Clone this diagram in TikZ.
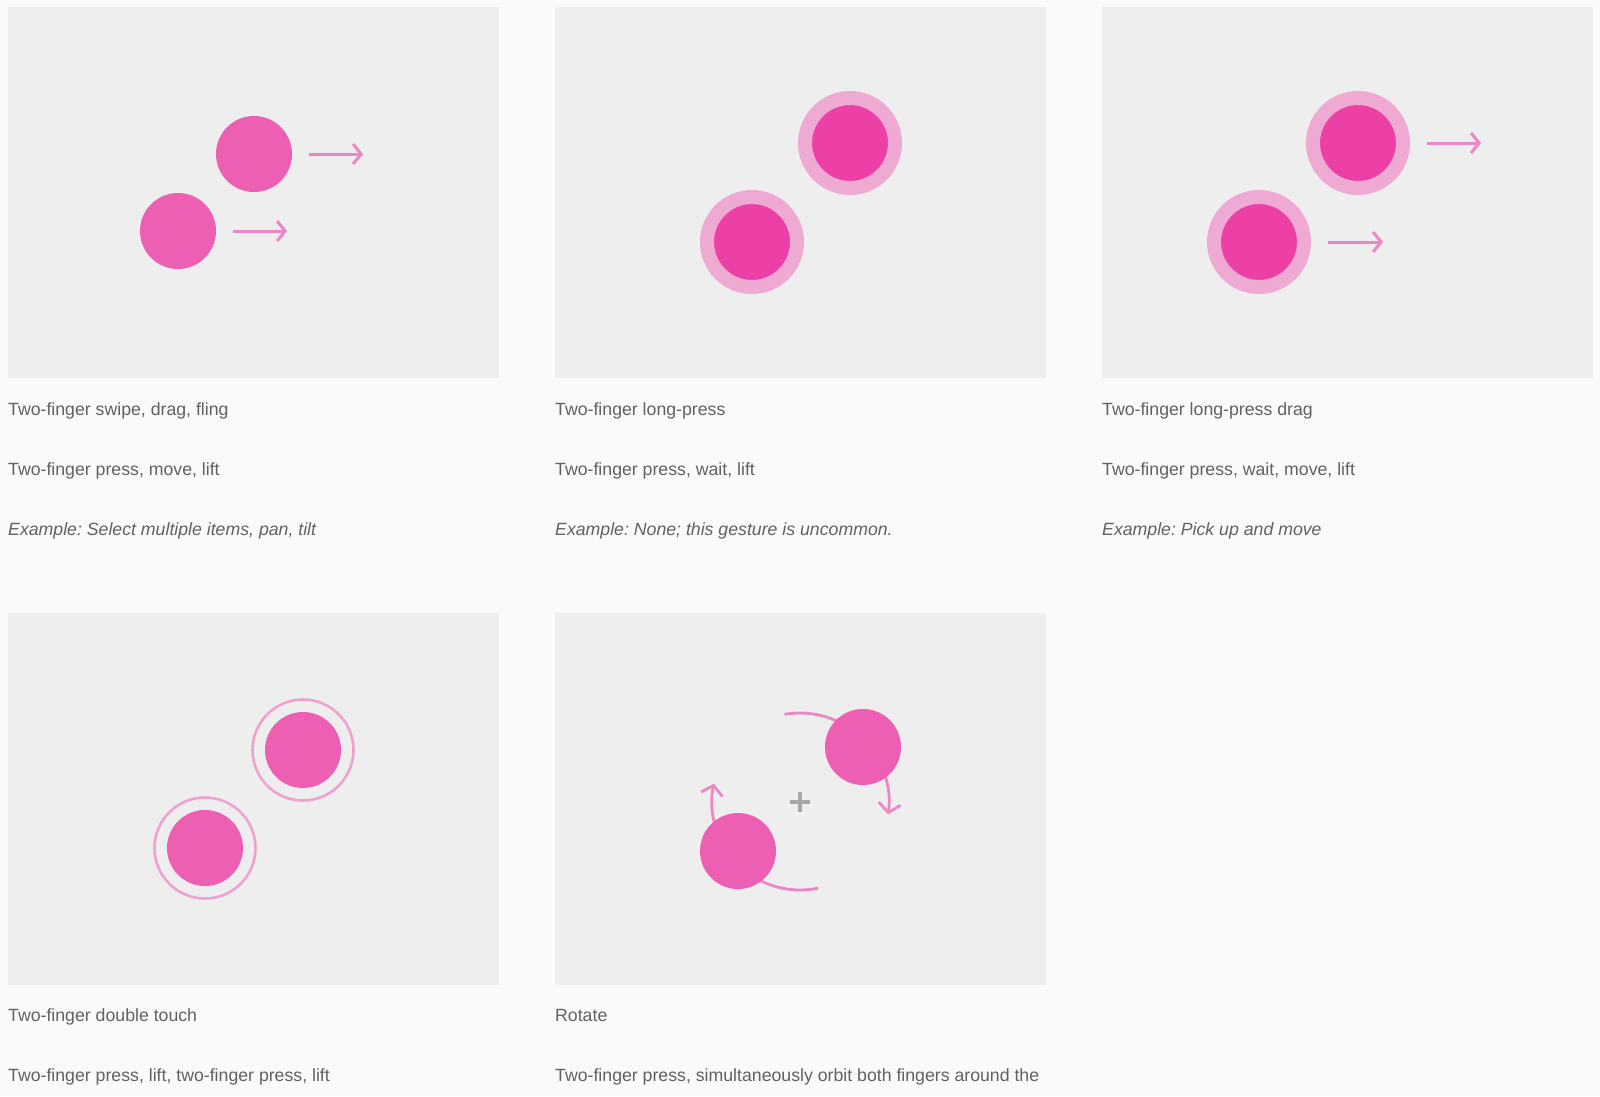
\documentclass[tikz,border=0pt]{standalone}
\usepackage{fontspec}
\setmainfont{Liberation Sans}
\usetikzlibrary{arrows.meta}
\definecolor{pagebg}{HTML}{FAFAFA}
\definecolor{panelbg}{HTML}{EEEEEE}
\definecolor{dotpink}{HTML}{ED5FB2}
\definecolor{deeppink}{HTML}{EC40A6}
\definecolor{halopink}{HTML}{EEAAD2}
\definecolor{ringpink}{HTML}{EEA2CE}
\definecolor{arrowpink}{HTML}{EE86C4}
\definecolor{txtgray}{HTML}{616161}
\definecolor{plusgray}{HTML}{A8A8A8}
\tikzset{
  panel/.style={fill=panelbg, draw=none},
  dot/.style={circle, fill=dotpink, draw=none, inner sep=0pt, minimum size=76pt},
  pressdot/.style={circle, fill=deeppink, draw=halopink, line width=14pt, inner sep=0pt, minimum size=90pt},
  ringdot/.style={circle, fill=dotpink, draw=none, inner sep=0pt, minimum size=76pt},
  ring/.style={circle, draw=ringpink, line width=2.6pt, inner sep=0pt, minimum size=101pt},
  movearrow/.style={draw=arrowpink, line width=3pt, -{Straight Barb[length=8pt,width=20pt,line width=3pt]}},
  orbitarrow/.style={draw=arrowpink, line width=2.8pt, -{Straight Barb[length=9pt,width=22pt,line width=2.8pt]}},
  title/.style={anchor=base west, inner sep=0pt, text=txtgray, font=\fontsize{17.7}{21}\selectfont},
  example/.style={title, font=\fontsize{17.7}{21}\selectfont\itshape},
}
\begin{document}
\frenchspacing
\begin{tikzpicture}[x=1pt, y=-1pt]
\useasboundingbox (0,0) rectangle (1600,1096);
\fill[pagebg] (0,0) rectangle (1600,1096);

% panels
\fill[panel] (8,7) rectangle (499,378);
\fill[panel] (555,7) rectangle (1046,378);
\fill[panel] (1102,7) rectangle (1593,378);
\fill[panel] (8,613) rectangle (499,985);
\fill[panel] (555,613) rectangle (1046,985);

% panel 1: swipe
\node[dot] (p1a) at (254,154) {};
\node[dot] (p1b) at (178,231) {};
\coordinate (p1as) at (309,154);
\coordinate (p1ae) at (363,154);
\coordinate (p1bs) at (233,231);
\coordinate (p1be) at (287,231);
\draw[movearrow] (p1as) -- (p1ae);
\draw[movearrow] (p1bs) -- (p1be);

% panel 2: long press
\node[pressdot] (p2a) at (850,143) {};
\node[pressdot] (p2b) at (752,242) {};

% panel 3: long press drag
\node[pressdot] (p3a) at (1358,143) {};
\node[pressdot] (p3b) at (1259,242) {};
\coordinate (p3as) at (1427,143);
\coordinate (p3ae) at (1481,143);
\coordinate (p3bs) at (1328,242);
\coordinate (p3be) at (1383,242);
\draw[movearrow] (p3as) -- (p3ae);
\draw[movearrow] (p3bs) -- (p3be);

% panel 4: double touch
\node[ring] (p4ra) at (303,750) {};
\node[ringdot] (p4a) at (303,750) {};
\node[ring] (p4rb) at (205,848) {};
\node[ringdot] (p4b) at (205,848) {};

% panel 5: rotate
\coordinate (ctr) at (800,802);
\draw[orbitarrow] (ctr) ++(-100:89) arc[start angle=-100, end angle=8, radius=89];
\draw[orbitarrow] (ctr) ++(78:88) arc[start angle=78, end angle=192, radius=88];
\node[dot] (p5a) at (863,747) {};
\node[dot] (p5b) at (738,851) {};
\draw[plusgray, line width=3.4pt] (790,802) -- (810,802) (800,792) -- (800,812);

% texts
\node[title] (t1a) at (8,415) {Two-finger swipe, drag, fling};
\node[title] (t1b) at (8,475) {Two-finger press, move, lift};
\node[example] (t1c) at (8,535) {Example: Select multiple items, pan, tilt};

\node[title] (t2a) at (555,415) {Two-finger long-press};
\node[title] (t2b) at (555,475) {Two-finger press, wait, lift};
\node[example] (t2c) at (555,535) {Example: None; this gesture is uncommon.};

\node[title] (t3a) at (1102,415) {Two-finger long-press drag};
\node[title] (t3b) at (1102,475) {Two-finger press, wait, move, lift};
\node[example] (t3c) at (1102,535) {Example: Pick up and move};

\node[title] (t4a) at (8,1021) {Two-finger double touch};
\node[title] (t4b) at (8,1081) {Two-finger press, lift, two-finger press, lift};

\node[title] (t5a) at (555,1021) {Rotate};
\node[title] (t5b) at (555,1081) {Two-finger press, simultaneously orbit both fingers around the};
\end{tikzpicture}
\end{document}
